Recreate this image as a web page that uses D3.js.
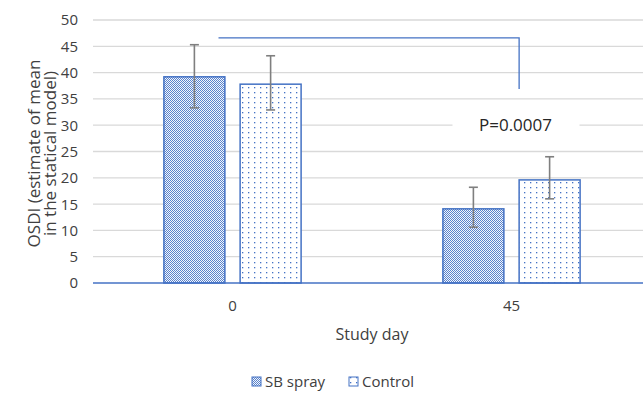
<!DOCTYPE html>
<html>
<head>
<meta charset="utf-8">
<script src="https://cdn.jsdelivr.net/npm/d3@7"></script>
<style>
  body { margin: 0; background: #fff; }
  svg text { font-family: "Open Sans", "Noto Sans", sans-serif; fill: #404040; }
</style>
</head>
<body>
<div class="chart"></div>
<script>
// chart values
let days = ["0", "45"];
let seriesNames = ["SB spray", "Control"];
let sbMean = [39.2, 14.1];
let sbLow = [33.3, 10.6];
let sbHigh = [45.3, 18.2];
let ctlMean = [37.8, 19.6];
let ctlLow = [32.9, 16.0];
let ctlHigh = [43.2, 24.0];
let yTicks = [0, 5, 10, 15, 20, 25, 30, 35, 40, 45, 50];
let bracketTop = 46.6;
let bracketBottom = 36.9;
let pLabel = "P=0.0007";

let width = 643, height = 393;
let margin = {left: 93, right: -8, top: 20, bottom: 110};
let blue = "#4472c4";

let svg = d3.select("div.chart").append("svg")
  .attr("width", width)
  .attr("height", height);

let defs = svg.append("defs");
// checkered fill for SB spray
let check = defs.append("pattern")
  .attr("id", "check")
  .attr("patternUnits", "userSpaceOnUse")
  .attr("width", 2).attr("height", 2);
check.append("rect").attr("width", 2).attr("height", 2).attr("fill", "#f4f7fc");
check.append("rect").attr("x", 0).attr("y", 0).attr("width", 1).attr("height", 1).attr("fill", "#5a83cc");
check.append("rect").attr("x", 1).attr("y", 1).attr("width", 1).attr("height", 1).attr("fill", "#5a83cc");
// dotted fill for Control
let dots = defs.append("pattern")
  .attr("id", "dots")
  .attr("patternUnits", "userSpaceOnUse")
  .attr("width", 6).attr("height", 5);
dots.append("rect").attr("width", 6).attr("height", 5).attr("fill", "#fff");
dots.append("rect").attr("x", 2).attr("y", 2).attr("width", 1.3).attr("height", 1.3).attr("fill", blue);

let fills = ["url(#check)", "url(#dots)"];

let x = d3.scaleBand()
  .domain(days)
  .range([margin.left, width - margin.right]);

let inner = d3.scaleBand()
  .domain(seriesNames)
  .range([0, x.bandwidth()])
  .paddingInner(0.2)
  .paddingOuter(0.93);

let y = d3.scaleLinear()
  .domain([0, 50])
  .range([height - margin.bottom, margin.top]);

// gridlines
svg.append("g")
  .selectAll("line")
  .data(yTicks.filter(d => d > 0))
  .enter()
  .append("line")
  .attr("x1", margin.left)
  .attr("x2", width)
  .attr("y1", d => y(d))
  .attr("y2", d => y(d))
  .attr("stroke", "#d9d9d9")
  .attr("stroke-width", 1.3);

// y tick labels
svg.append("g")
  .selectAll("text")
  .data(yTicks)
  .enter()
  .append("text")
  .attr("x", margin.left - 15)
  .attr("y", d => y(d))
  .attr("dy", "0.36em")
  .attr("text-anchor", "end")
  .style("font-size", "15px")
  .text(d => d);

// bars
let rows = [];
days.forEach((day, i) => {
  rows.push({day: day, s: 0, mean: sbMean[i], lo: sbLow[i], hi: sbHigh[i]});
  rows.push({day: day, s: 1, mean: ctlMean[i], lo: ctlLow[i], hi: ctlHigh[i]});
});

let barX = d => x(d.day) + inner(seriesNames[d.s]);

svg.append("g")
  .selectAll("rect")
  .data(rows)
  .enter()
  .append("rect")
  .attr("x", barX)
  .attr("y", d => y(d.mean))
  .attr("width", inner.bandwidth())
  .attr("height", d => y(0) - y(d.mean))
  .attr("fill", d => fills[d.s])
  .attr("stroke", blue)
  .attr("stroke-width", 1.5);

// axis line
svg.append("line")
  .attr("x1", margin.left)
  .attr("x2", width)
  .attr("y1", y(0))
  .attr("y2", y(0))
  .attr("stroke", blue)
  .attr("stroke-width", 1.5);

// error bars
let err = svg.append("g")
  .attr("stroke", "#7f7f7f")
  .attr("stroke-width", 1.6);
rows.forEach(d => {
  let cx = barX(d) + inner.bandwidth() / 2;
  err.append("line").attr("x1", cx).attr("x2", cx).attr("y1", y(d.lo)).attr("y2", y(d.hi));
  err.append("line").attr("x1", cx - 4.5).attr("x2", cx + 4.5).attr("y1", y(d.lo)).attr("y2", y(d.lo));
  err.append("line").attr("x1", cx - 4.5).attr("x2", cx + 4.5).attr("y1", y(d.hi)).attr("y2", y(d.hi));
});

// significance bracket
let bx1 = x(days[0]) + x.bandwidth() / 2 - 14;
let bx2 = x(days[1]) + inner(seriesNames[1]);
svg.append("path")
  .attr("d", "M" + bx1 + "," + y(bracketTop) + "H" + bx2 + "V" + y(bracketBottom))
  .attr("fill", "none")
  .attr("stroke", blue)
  .attr("stroke-width", 1.3);

// p value label on white box
let px = x(days[1]) + x.bandwidth() / 2 + 4;
svg.append("rect")
  .attr("x", px - 63)
  .attr("y", y(30) - 10)
  .attr("width", 127)
  .attr("height", 20)
  .attr("fill", "#fff");
svg.append("text")
  .attr("x", px)
  .attr("y", y(30) + 6)
  .attr("text-anchor", "middle")
  .style("font-size", "17px")
  .style("fill", "#262626")
  .text(pLabel);

// x labels
svg.append("g")
  .selectAll("text")
  .data(days)
  .enter()
  .append("text")
  .attr("x", d => x(d) + x.bandwidth() / 2)
  .attr("y", y(0) + 28)
  .attr("text-anchor", "middle")
  .style("font-size", "15px")
  .text(d => d);

svg.append("text")
  .attr("x", (margin.left + width - margin.right) / 2)
  .attr("y", 340)
  .attr("text-anchor", "middle")
  .style("font-size", "16px")
  .text("Study day");

// y title
let yt = svg.append("text")
  .attr("transform", "translate(40," + (y(25) + 2) + ")rotate(-90)")
  .attr("text-anchor", "middle")
  .style("font-size", "17px");
yt.append("tspan").attr("x", 0).attr("dy", 0).text("OSDI (estimate of mean");
yt.append("tspan").attr("x", 0).attr("dy", 16).text("in the statical model)");

// legend
let legend = svg.append("g");
let legX = [252, 349];
seriesNames.forEach((name, i) => {
  legend.append("rect")
    .attr("x", legX[i])
    .attr("y", 377)
    .attr("width", 9)
    .attr("height", 9)
    .attr("fill", fills[i])
    .attr("stroke", blue)
    .attr("stroke-width", 1);
  legend.append("text")
    .attr("x", legX[i] + 13)
    .attr("y", 387)
    .style("font-size", "15px")
    .text(name);
});
</script>
</body>
</html>
